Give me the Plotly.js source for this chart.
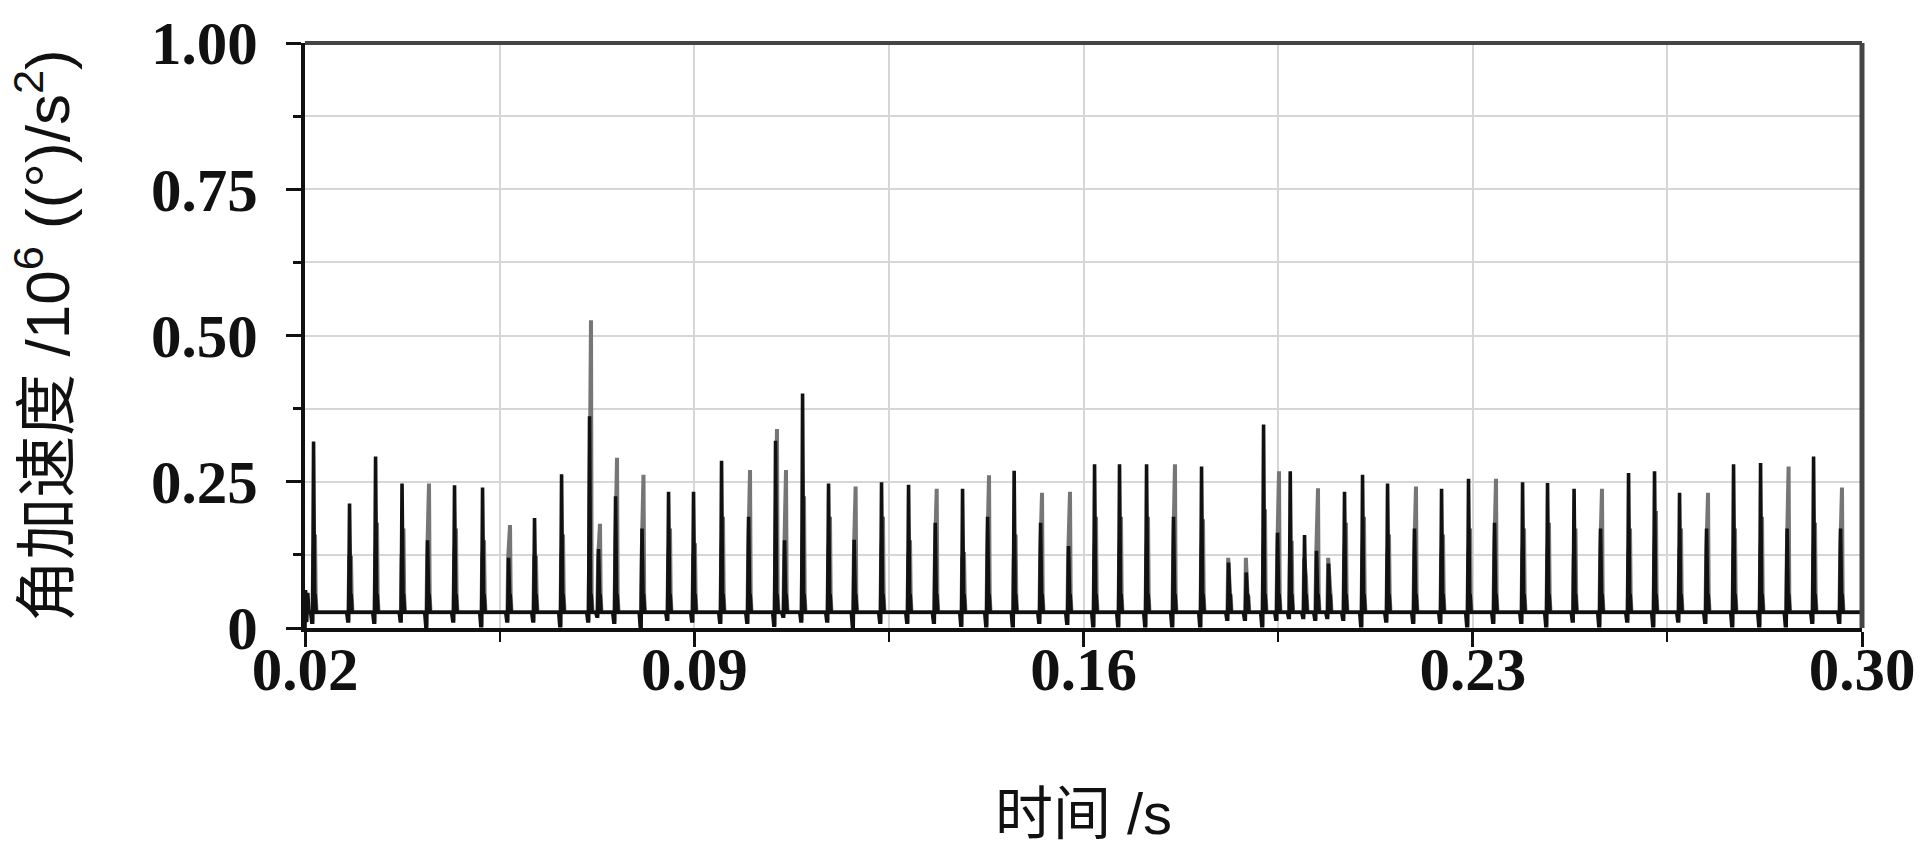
<!DOCTYPE html>
<html>
<head>
<meta charset="utf-8">
<script src="https://cdn.plot.ly/plotly-3.0.1.min.js"></script>
<style>
  html, body { margin: 0; padding: 0; background: #ffffff; }
  #chart { width: 1922px; height: 849px; }
</style>
</head>
<body>
<div id="chart"></div>
<script>
// ---- Data ----
// Time (s) of each acceleration spike
const spikeT = [
  0.02162, 0.02809, 0.03277, 0.03753, 0.04212, 0.04697, 0.05201, 0.05669, 0.06136, 0.06622,
  0.07125, 0.07287, 0.07593, 0.08069, 0.08546, 0.08995, 0.09499, 0.09985, 0.10470, 0.10632,
  0.10956, 0.11423, 0.11884, 0.12376, 0.12862, 0.13342, 0.13833, 0.14283, 0.14761, 0.15236,
  0.15739, 0.16207, 0.16656, 0.17142, 0.17627, 0.18131, 0.18617, 0.18935, 0.19246, 0.19498,
  0.19726, 0.19983, 0.20199, 0.20415, 0.20702, 0.21026, 0.21476, 0.21961, 0.22447, 0.22932,
  0.23400, 0.23904, 0.24353, 0.24830, 0.25306, 0.25810, 0.26277, 0.26727, 0.27213, 0.27698,
  0.28184, 0.28662, 0.29137, 0.29622
];
// Tallest value of each spike (10^6 (°)/s^2)
const peakTall = [
  0.319, 0.213, 0.293, 0.247, 0.247, 0.244, 0.240, 0.176, 0.188, 0.263,
  0.526, 0.178, 0.291, 0.262, 0.233, 0.233, 0.286, 0.270, 0.340, 0.270,
  0.401, 0.247, 0.242, 0.249, 0.245, 0.238, 0.238, 0.261, 0.269, 0.231,
  0.233, 0.280, 0.280, 0.280, 0.280, 0.276, 0.112, 0.095, 0.348, 0.268,
  0.268, 0.159, 0.239, 0.110, 0.233, 0.262, 0.247, 0.242, 0.238, 0.255,
  0.255, 0.249, 0.248, 0.238, 0.238, 0.265, 0.268, 0.231, 0.231, 0.280,
  0.282, 0.276, 0.293, 0.240
];
// Secondary (shorter) level next to each spike
const peakSecond = [
  0.160, 0.120, 0.180, 0.170, 0.150, 0.170, 0.150, 0.120, 0.120, 0.160,
  0.362, 0.135, 0.225, 0.170, 0.170, 0.145, 0.190, 0.190, 0.320, 0.150,
  0.225, 0.190, 0.151, 0.190, 0.150, 0.180, 0.130, 0.190, 0.160, 0.180,
  0.140, 0.190, 0.190, 0.190, 0.190, 0.186, 0.060, 0.050, 0.203, 0.163,
  0.149, 0.087, 0.132, 0.070, 0.180, 0.190, 0.160, 0.170, 0.160, 0.170,
  0.180, 0.170, 0.180, 0.170, 0.170, 0.170, 0.200, 0.170, 0.170, 0.170,
  0.190, 0.170, 0.180, 0.170
];
// 1 = the tall line is the grey curve, 0 = the tall line is the black curve
const tallIsGray = [
  0, 0, 0, 0, 1, 0, 0, 1, 0, 0,
  1, 1, 1, 1, 0, 0, 0, 1, 1, 1,
  0, 0, 1, 0, 0, 1, 0, 1, 0, 1,
  1, 0, 0, 0, 1, 0, 0, 0, 0, 1,
  0, 0, 1, 0, 0, 0, 0, 1, 0, 0,
  1, 0, 0, 0, 1, 0, 0, 0, 1, 0,
  0, 1, 0, 1
];
// Short dip below the resting level just before each spike
const dipLevel = [
  0.010, 0.012, 0.010, 0.012, 0.003, 0.012, 0.004, 0.012, 0.012, 0.004,
  0.012, 0.020, 0.010, 0.002, 0.015, 0.012, 0.010, 0.010, 0.005, 0.020,
  0.012, 0.012, 0.003, 0.010, 0.010, 0.010, 0.005, 0.004, 0.004, 0.010,
  0.008, 0.004, 0.004, 0.004, 0.004, 0.004, 0.015, 0.015, 0.004, 0.015,
  0.018, 0.018, 0.015, 0.018, 0.015, 0.004, 0.012, 0.010, 0.010, 0.004,
  0.010, 0.010, 0.004, 0.012, 0.004, 0.012, 0.004, 0.012, 0.010, 0.004,
  0.004, 0.004, 0.010, 0.010
];
// Small level near the foot of each spike (after the peak)
const footLevel = 0.055;
// Resting level of the signal between spikes
const restLevel = 0.027;
// Start-up transient at the left edge
const startT = [0.0200, 0.0201, 0.0203, 0.0205, 0.0207];
const startY = [0.000, 0.065, 0.010, 0.060, 0.027];
const endT = 0.30;

// Tick labels
const yTickVals = [0, 0.25, 0.5, 0.75, 1.0];
const yTickText = ['0', '0.25', '0.50', '0.75', '1.00'];
const xTickVals = [0.02, 0.09, 0.16, 0.23, 0.30];
const xTickText = ['0.02', '0.09', '0.16', '0.23', '0.30'];

// ---- Build the two curves (black and grey) ----
const kx = startT.slice(), ky = startY.slice();
const gx = [0.0200], gy = [restLevel];
for (let i = 0; i < spikeT.length; i++) {
  const t = spikeT[i];
  const kPeak = tallIsGray[i] ? peakSecond[i] : peakTall[i];
  const gPeak = tallIsGray[i] ? peakTall[i] : peakSecond[i];
  kx.push(t - 0.0006, t - 0.0004, t - 0.00025, t - 0.00008, t + 0.00010, t + 0.00022, t + 0.00038);
  ky.push(restLevel, dipLevel[i], dipLevel[i], kPeak, footLevel, footLevel, restLevel);
  gx.push(t - 0.0004, t - 0.0003, t - 0.00015, t + 0.00018, t + 0.0003, t + 0.00045);
  gy.push(restLevel, dipLevel[i], 0.12, gPeak, footLevel, restLevel);
}
kx.push(endT); ky.push(restLevel);
gx.push(endT); gy.push(restLevel);

const traces = [
  { x: gx, y: gy, type: 'scatter', mode: 'lines', line: { color: '#767676', width: 4, simplify: false }, hoverinfo: 'skip', showlegend: false },
  { x: kx, y: ky, type: 'scatter', mode: 'lines', line: { color: '#111111', width: 3.6, simplify: false }, hoverinfo: 'skip', showlegend: false }
];

const tickFont = { family: 'Liberation Serif, Times New Roman, serif', size: 61, color: '#111111', weight: 'bold' };

const layout = {
  width: 1922, height: 849,
  margin: { l: 305, r: 60, t: 43, b: 221, autoexpand: false },
  paper_bgcolor: '#ffffff', plot_bgcolor: '#ffffff',
  showlegend: false,
  xaxis: {
    range: [0.02, 0.30], autorange: false,
    tickvals: xTickVals, ticktext: xTickText,
    ticks: 'outside', ticklen: 15, tickwidth: 3, tickcolor: '#111',
    showline: true, linewidth: 4, linecolor: '#111',
    showgrid: true, gridcolor: '#d6d6d6', gridwidth: 2,
    zeroline: false,
    tickfont: tickFont,
    ticklabelstandoff: -30,
    minor: { dtick: 0.035, tick0: 0.02, ticks: 'outside', ticklen: 10, tickwidth: 2, tickcolor: '#111', showgrid: true, gridcolor: '#d6d6d6', gridwidth: 2 },
    title: { text: '时间 /s', font: { family: 'Liberation Sans, Noto Sans CJK SC, sans-serif', size: 58, color: '#111' }, standoff: 92 },
    automargin: false
  },
  yaxis: {
    range: [0, 1], autorange: false,
    tickvals: yTickVals, ticktext: yTickText,
    ticks: 'outside', ticklen: 15, tickwidth: 3, tickcolor: '#111',
    showline: true, linewidth: 4, linecolor: '#111',
    showgrid: true, gridcolor: '#d6d6d6', gridwidth: 2,
    zeroline: false,
    tickfont: tickFont,
    ticklabelstandoff: 16,
    minor: { dtick: 0.125, tick0: 0, ticks: 'outside', ticklen: 8, tickwidth: 3, tickcolor: '#111', showgrid: true, gridcolor: '#d6d6d6', gridwidth: 2 },
    title: { text: '角加速度 /10<sup>6</sup> ((°)/s<sup>2</sup>)', font: { family: 'Liberation Sans, Noto Sans CJK SC, sans-serif', size: 62, color: '#111' }, standoff: 62 },
    automargin: false
  },
  shapes: [
    { type: 'line', xref: 'paper', yref: 'paper', x0: 0, x1: 1, y0: 1, y1: 1, line: { color: '#444', width: 4 } },
    { type: 'line', xref: 'paper', yref: 'paper', x0: 1, x1: 1, y0: 0, y1: 1, line: { color: '#444', width: 5 } }
  ]
};

Plotly.newPlot('chart', traces, layout, { staticPlot: true, displayModeBar: false });
</script>
</body>
</html>
